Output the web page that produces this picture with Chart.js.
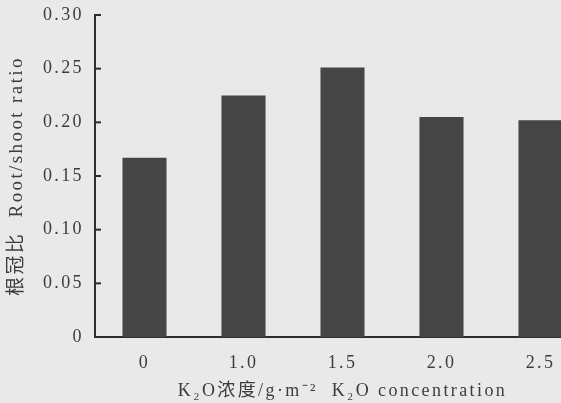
<!DOCTYPE html>
<html>
<head>
<meta charset="utf-8">
<script src="https://cdn.jsdelivr.net/npm/chart.js@4"></script>
<style>
  html, body { margin: 0; padding: 0; overflow: hidden; background: #e9e9e9; }
  #wrap { width: 600px; height: 403px; }
</style>
</head>
<body>
<div id="wrap"><canvas id="c" width="600" height="403"></canvas></div>
<script>
const categories = ['0', '1.0', '1.5', '2.0', '2.5'];
const ratioValues = [0.167, 0.225, 0.251, 0.205, 0.202];
const yTicks = [0, 0.05, 0.10, 0.15, 0.20, 0.25, 0.30];
const xTitle = 'K\u2082O浓度/g·m\u207B\u00B2  K\u2082O concentration';
const yTitle = '根冠比  Root/shoot ratio';

const FONT = "'Liberation Serif', 'Noto Sans CJK SC', serif";
const textColor = '#3c3c3c';
const axisColor = '#2e2e2e';

const spacing = {
  id: 'spacing',
  beforeUpdate(chart) { chart.ctx.letterSpacing = '2.4px'; },
  beforeDraw(chart) { chart.ctx.letterSpacing = '2.4px'; }
};

const innerTicks = {
  id: 'innerTicks',
  afterDraw(chart) {
    const y = chart.scales.y;
    const ctx = chart.ctx;
    ctx.save();
    ctx.strokeStyle = axisColor;
    ctx.lineWidth = 2;
    y.ticks.forEach((t, i) => {
      const py = y.getPixelForTick(i);
      ctx.beginPath();
      ctx.moveTo(y.right, py);
      ctx.lineTo(y.right + 6, py);
      ctx.stroke();
    });
    ctx.restore();
  }
};

new Chart(document.getElementById('c'), {
  type: 'bar',
  data: {
    labels: categories,
    datasets: [{
      data: ratioValues,
      backgroundColor: '#454545',
      borderWidth: 0,
      barPercentage: 0.445,
      categoryPercentage: 1.0
    }]
  },
  options: {
    responsive: false,
    animation: false,
    devicePixelRatio: 1,
    layout: { padding: { top: 15, right: 10, bottom: 1, left: 0 } },
    plugins: { legend: { display: false }, tooltip: { enabled: false } },
    scales: {
      x: {
        afterFit(scale) { scale.height = 65; scale.paddingLeft = 0; scale.paddingRight = 0; },
        grid: { display: false, drawTicks: false },
        border: { display: true, color: axisColor, width: 2 },
        ticks: { color: textColor, font: { family: FONT, size: 18 }, padding: 15, maxRotation: 0 },
        title: { display: true, text: xTitle, color: textColor, font: { family: FONT, size: 18 }, padding: { top: 0, bottom: 0 } }
      },
      y: {
        min: 0, max: 0.30,
        afterBuildTicks(scale) { scale.ticks = yTicks.map(v => ({ value: v })); },
        afterFit(scale) { scale.width = 95; scale.paddingTop = 0; scale.paddingBottom = 0; },
        grid: { display: false, drawTicks: false },
        border: { display: true, color: axisColor, width: 2 },
        ticks: {
          color: textColor, font: { family: FONT, size: 18 }, padding: 11,
          callback: v => (v === 0 ? '0' : v.toFixed(2))
        },
        title: { display: true, text: yTitle, color: textColor, font: { family: FONT, size: 19 }, padding: { top: 6, bottom: 0 } }
      }
    }
  },
  plugins: [spacing, innerTicks]
});
</script>
</body>
</html>
